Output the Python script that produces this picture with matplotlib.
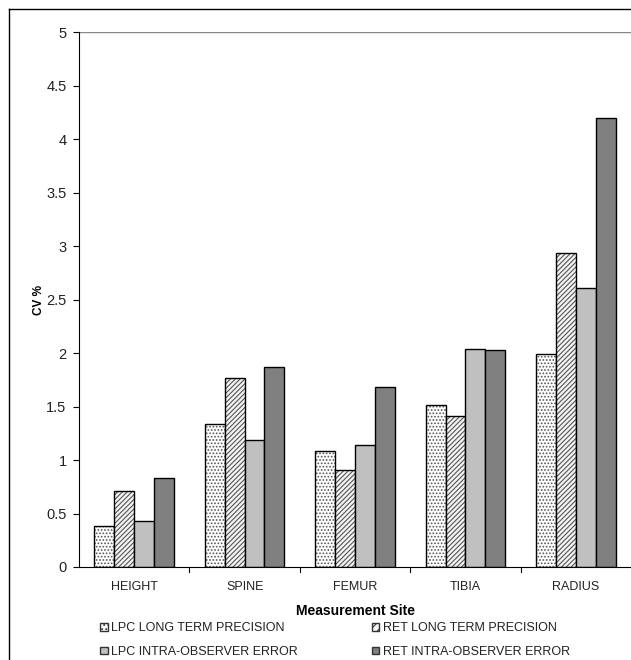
import numpy as np
import matplotlib.pyplot as plt
from matplotlib.lines import Line2D
from matplotlib.patches import Patch

plt.rcParams['font.family'] = ['Liberation Sans', 'DejaVu Sans']
plt.rcParams['hatch.linewidth'] = 0.8

sites = ['HEIGHT', 'SPINE', 'FEMUR', 'TIBIA', 'RADIUS']
series = ['LPC LONG TERM PRECISION', 'RET LONG TERM PRECISION',
          'LPC INTRA-OBSERVER ERROR', 'RET INTRA-OBSERVER ERROR']
lpc_long = [0.38, 1.34, 1.08, 1.51, 1.99]
ret_long = [0.71, 1.77, 0.91, 1.41, 2.93]
lpc_intra = [0.43, 1.19, 1.14, 2.04, 2.61]
ret_intra = [0.83, 1.87, 1.68, 2.03, 4.20]
yticks = [0, 0.5, 1, 1.5, 2, 2.5, 3, 3.5, 4, 4.5, 5]

fig = plt.figure(figsize=(6.31, 6.6), dpi=100)
ax = fig.add_axes([79 / 631, 1 - 567 / 660, 552 / 631, 535 / 660])

styles = [
    dict(facecolor='white', hatch='.....'),
    dict(facecolor='#f4f4f4', hatch='///////'),
    dict(facecolor='#c0c0c0', hatch=None),
    dict(facecolor='#808080', hatch=None),
]
data = [lpc_long, ret_long, lpc_intra, ret_intra]

x = np.arange(len(sites))
w = 0.18
handles = []
for i, (vals, st) in enumerate(zip(data, styles)):
    pos = x + (i - 1.5) * w
    if st['hatch']:
        # hatch in grey, outline in black on top
        ax.bar(pos, vals, w, facecolor=st['facecolor'], hatch=st['hatch'],
               edgecolor='#555555', linewidth=0)
        ax.bar(pos, vals, w, facecolor='none', edgecolor='black', linewidth=1.0)
        handles.append(Patch(facecolor=st['facecolor'], hatch='....' if i == 0 else '////',
                             edgecolor='#333333', linewidth=1.0))
    else:
        ax.bar(pos, vals, w, facecolor=st['facecolor'], edgecolor='black', linewidth=1.0)
        handles.append(Patch(facecolor=st['facecolor'], edgecolor='#333333', linewidth=1.0))

ax.set_xlim(-0.5, len(sites) - 0.5)
ax.set_ylim(0, 5)
ax.set_yticks(yticks)
ax.set_yticklabels([f'{t:g}' for t in yticks], fontsize=10.5, color='#222222')
ax.set_xticks(x)
ax.set_xticklabels(sites, fontsize=9, color='#222222')
ax.tick_params(axis='x', length=0, pad=10)
ax.tick_params(axis='y', length=4, width=0.8, direction='out', pad=5)
for b in np.arange(0.5, len(sites) - 0.5, 1):
    ax.plot([b, b], [0, -0.05], color='black', lw=0.8, clip_on=False)

ax.axhline(5, color='#888888', lw=1)
for s in ['top', 'right']:
    ax.spines[s].set_visible(False)
ax.spines['left'].set_linewidth(0.8)
ax.spines['bottom'].set_linewidth(0.8)

ax.set_ylabel('CV %', fontsize=8.5, fontweight='bold', labelpad=1)
ax.set_xlabel('Measurement Site', fontsize=10, fontweight='bold', labelpad=8)

# legend: matplotlib fills columns first, so reorder to get row-wise layout
order = [0, 2, 1, 3]
leg = fig.legend(handles=[handles[k] for k in order], labels=[series[k] for k in order],
                 ncol=2, loc='upper left',
                 bbox_to_anchor=(100 / 631, 1 - 622 / 660), frameon=False,
                 fontsize=9, handlelength=0.6, handleheight=0.6, handletextpad=0.3,
                 columnspacing=5.9, labelspacing=0.95, borderaxespad=0, borderpad=0)
for t in leg.get_texts():
    t.set_color('#222222')

# outer frame
fig.add_artist(Line2D([9 / 631, 9 / 631], [0, 1 - 9 / 660], transform=fig.transFigure,
                      color='black', lw=1))
fig.add_artist(Line2D([9 / 631, 1], [1 - 9 / 660, 1 - 9 / 660], transform=fig.transFigure,
                      color='black', lw=1))

fig.savefig('out.png', dpi=100)
